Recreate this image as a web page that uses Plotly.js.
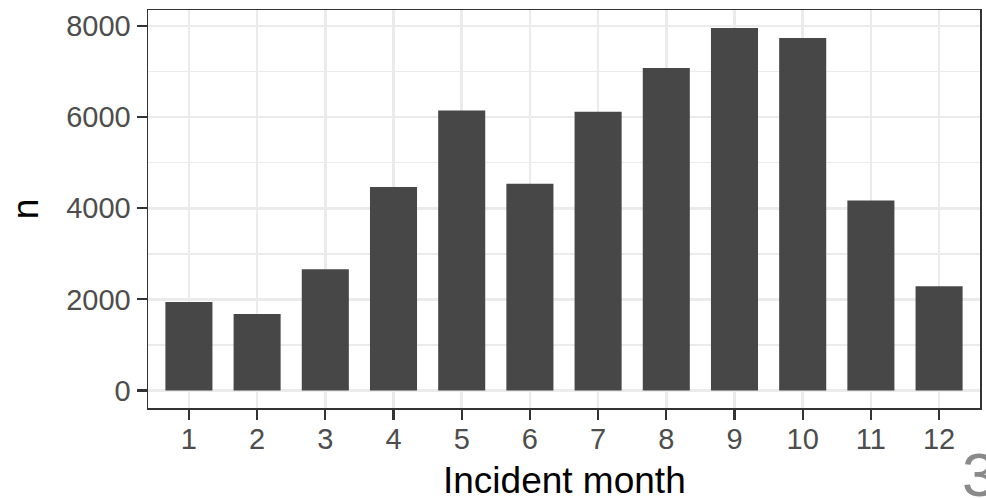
<!DOCTYPE html>
<html>
<head>
<meta charset="utf-8">
<script src="https://cdn.plot.ly/plotly-3.0.1.min.js"></script>
<style>html,body{margin:0;padding:0;background:#fff}#chart{width:986px;height:498px}</style>
</head>
<body>
<div id="chart"></div>
<script>
const months = [1, 2, 3, 4, 5, 6, 7, 8, 9, 10, 11, 12];
const counts = [1940, 1680, 2660, 4470, 6150, 4540, 6120, 7080, 7960, 7740, 4170, 2290];
const yTicks = [0, 2000, 4000, 6000, 8000];
const xTitle = 'Incident month';
const yTitle = 'n';
const pageNumber = '3';

const trace = {
  type: 'bar',
  x: months,
  y: counts,
  marker: {color: '#474747', line: {width: 0}},
  hoverinfo: 'x+y'
};

const layout = {
  width: 986,
  height: 498,
  margin: {l: 148, r: 6, t: 10, b: 90},
  paper_bgcolor: '#ffffff',
  plot_bgcolor: '#ffffff',
  bargap: 0.31,
  showlegend: false,
  font: {family: 'Liberation Sans, Arial, sans-serif'},
  xaxis: {
    range: [0.4, 12.6],
    tickmode: 'array',
    tickvals: months,
    ticktext: months.map(String),
    ticks: 'outside',
    ticklen: 10,
    tickwidth: 2.2,
    tickcolor: '#333333',
    tickfont: {size: 29, color: '#4d4d4d'},
    ticklabelstandoff: -5,
    showgrid: true,
    gridcolor: '#ebebeb',
    gridwidth: 2.5,
    zeroline: false,
    showline: true,
    linecolor: '#333333',
    linewidth: 1.5,
    mirror: true,
    automargin: false
  },
  yaxis: {
    range: [-385, 8355],
    tickmode: 'array',
    tickvals: yTicks,
    ticktext: yTicks.map(String),
    ticks: 'outside',
    ticklen: 10,
    tickwidth: 2.2,
    tickcolor: '#333333',
    tickfont: {size: 29, color: '#4d4d4d'},
    showgrid: true,
    gridcolor: '#ebebeb',
    gridwidth: 2.5,
    minor: {dtick: 1000, tick0: 1000, showgrid: true, gridcolor: '#ebebeb', gridwidth: 1.3, ticks: ''},
    zeroline: false,
    showline: true,
    linecolor: '#333333',
    linewidth: 1.5,
    mirror: true,
    title: {text: yTitle, font: {size: 37, color: '#000000'}, standoff: 16},
    automargin: false
  },
  annotations: [{
    text: xTitle,
    xref: 'paper', yref: 'paper',
    x: 0.5, y: 0, xanchor: 'center', yanchor: 'top',
    yshift: -50,
    showarrow: false,
    font: {size: 37, color: '#000000'}
  }, {
    text: pageNumber,
    xref: 'paper', yref: 'paper',
    x: 1.0, y: 0, xanchor: 'left', yanchor: 'top',
    xshift: -20, yshift: -30,
    showarrow: false,
    font: {size: 62, color: '#8a8a8a'}
  }]
};

Plotly.newPlot('chart', [trace], layout, {displayModeBar: false, staticPlot: true});
</script>
</body>
</html>
